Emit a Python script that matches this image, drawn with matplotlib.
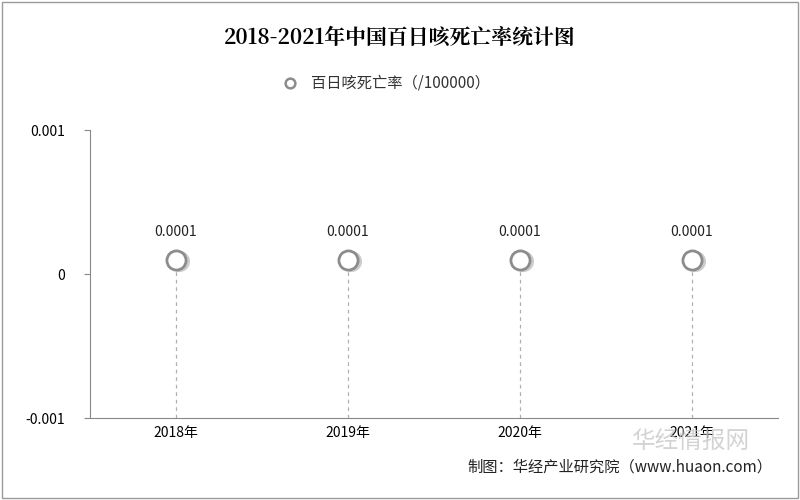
import matplotlib.pyplot as plt
from matplotlib.patches import Rectangle

plt.rcParams['font.family'] = ['Noto Sans CJK SC', 'DejaVu Sans']

years = ["2018年", "2019年", "2020年", "2021年"]
rates = [0.0001, 0.0001, 0.0001, 0.0001]
labels = ["0.0001", "0.0001", "0.0001", "0.0001"]

fig = plt.figure(figsize=(8, 5), dpi=100)
fig.patches.append(Rectangle((0.002, 0.004), 0.996, 0.992, transform=fig.transFigure,
                             fill=False, edgecolor="#9a9a9a", linewidth=1))
ax = fig.add_axes([0.1125, 0.164, 0.86, 0.576])

x = list(range(len(years)))
for xi, v in zip(x, rates):
    ax.plot([xi, xi], [-0.001, v], linestyle=(0, (3, 3)), color="#b0b0b0", linewidth=0.9, zorder=1)
ax.scatter([xi + 0.02 for xi in x], [v - 0.000012 for v in rates], s=200, color="#cccccc", zorder=2)
ax.scatter(x, rates, s=190, facecolor="white", edgecolor="#8c8c8c", linewidth=2, zorder=3)
for xi, v, t in zip(x, rates, labels):
    ax.text(xi, v + 0.00014, t, ha="center", va="bottom", fontsize=10, color="#222222")

ax.set_xlim(-0.5, 3.5)
ax.set_ylim(-0.001, 0.001)
ax.set_yticks([-0.001, 0, 0.001])
ax.set_yticklabels(["-0.001", "0", "0.001"], fontsize=10)
ax.set_xticks(x)
ax.set_xticklabels(years, fontsize=10)
for s in ["top", "right"]:
    ax.spines[s].set_visible(False)
ax.spines["left"].set_color("#888888")
ax.spines["bottom"].set_color("#888888")
ax.tick_params(axis="y", length=4, color="#888888", pad=14)
ax.tick_params(axis="x", length=0, pad=6)

fig.text(0.5, 0.925, "2018-2021年中国百日咳死亡率统计图", ha="center", va="center",
         fontsize=15, fontweight="bold", family=["Noto Serif CJK SC", "Noto Sans CJK SC", "DejaVu Serif"])
fig.text(0.5, 0.835, "百日咳死亡率（/100000）", ha="center", va="center", fontsize=11, color="#333333")
fig.lines.append(plt.Line2D([0.363], [0.835], marker="o", markersize=7, markerfacecolor="white",
                            markeredgecolor="#8c8c8c", markeredgewidth=1.8, transform=fig.transFigure))
fig.text(0.79, 0.118, "华经情报网", ha="left", va="center", fontsize=17, color="#c8c8c8", alpha=0.8)
fig.text(0.965, 0.065, "制图：华经产业研究院（www.huaon.com）", ha="right", va="center",
         fontsize=11, color="#222222")

fig.savefig("out.png", dpi=100)
